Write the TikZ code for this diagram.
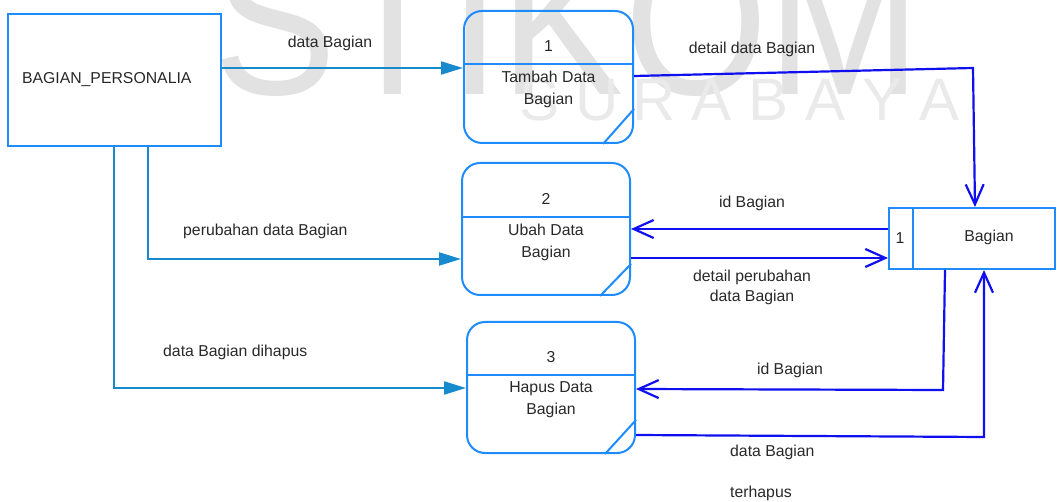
\documentclass[tikz,border=0pt]{standalone}
\usepackage{fontspec}
\setmainfont{Liberation Sans}
\usetikzlibrary{arrows.meta}
\definecolor{procblue}{RGB}{30,140,255}
\definecolor{lflowc}{RGB}{22,138,204}
\definecolor{rflowc}{RGB}{15,15,240}
\definecolor{txt}{RGB}{40,40,40}
\definecolor{wm}{RGB}{226,226,226}
\definecolor{wmtwo}{RGB}{234,234,234}
\begin{document}
\begin{tikzpicture}[x=1pt,y=-1pt,
  every node/.style={text=txt, font=\fontsize{15.8}{22}\selectfont},
  entity/.style={draw=procblue, line width=2pt, rectangle, minimum width=213pt, minimum height=132pt, text width=185pt, inner xsep=14pt, align=left},
  proc/.style={draw=procblue, line width=2pt, rectangle, rounded corners=18pt},
  procline/.style={draw=procblue, line width=2pt},
  store/.style={draw=procblue, line width=2pt, rectangle, minimum width=166pt, minimum height=61pt},
  lflow/.style={draw=lflowc, line width=2pt, -{Triangle[length=22pt,width=13pt]}},
  rflow/.style={draw=rflowc, line width=2.2pt, -{Straight Barb[length=20pt,width=18pt]}},
  lbl/.style={inner sep=0pt},
  wmbig/.style={text=wm, font=\fontsize{210}{210}\selectfont, inner sep=0pt, anchor=base west},
  wmsmall/.style={text=wmtwo, font=\fontsize{60}{60}\selectfont, inner sep=0pt, anchor=base}
]
\useasboundingbox (0,0) rectangle (1057,502);
% watermark
\begin{scope}
\clip (0,0) rectangle (1057,502);
\node[wmbig] (wmA) at (213,95) {\scalebox{0.88}[1]{STIKOM}};
\node[wmsmall] (w1) at (540,121) {S};
\node[wmsmall] (w2) at (597,121) {U};
\node[wmsmall] (w3) at (654,121) {R};
\node[wmsmall] (w4) at (711,121) {A};
\node[wmsmall] (w5) at (768,121) {B};
\node[wmsmall] (w6) at (825,121) {A};
\node[wmsmall] (w7) at (882,121) {Y};
\node[wmsmall] (w8) at (939,121) {A};
\end{scope}

% external entity
\node[entity] (ent) at (114.5,80) {BAGIAN\_PERSONALIA};

% processes
\node[proc, minimum width=169pt, minimum height=132pt] (p1) at (548.5,77) {};
\node[proc, minimum width=168pt, minimum height=132pt] (p2) at (546,229) {};
\node[proc, minimum width=168pt, minimum height=131pt] (p3) at (551,387.5) {};
\draw[procline] (p1.west |- 0,64) -- (p1.east |- 0,64);
\draw[procline] (p2.west |- 0,217) -- (p2.east |- 0,217);
\draw[procline] (p3.west |- 0,375) -- (p3.east |- 0,375);
\draw[procline] (p1.east |- 0,109) -- (p1.south -| 603,0);
\draw[procline] (p2.east |- 0,264) -- (p2.south -| 600,0);
\draw[procline] (p3.east |- 0,420) -- (p3.south -| 605,0);
\node[lbl] (n1) at (548.5,46) {1};
\node[lbl, align=center] (n1t) at (548.5,89) {Tambah Data\\Bagian};
\node[lbl] (n2) at (546,199) {2};
\node[lbl, align=center] (n2t) at (546,242.5) {Ubah Data\\Bagian};
\node[lbl] (n3) at (551,357) {3};
\node[lbl, align=center] (n3t) at (551,400) {Hapus Data\\Bagian};

% data store
\node[store] (st) at (972,238.5) {};
\draw[procline] (st.north -| 913,0) -- (st.south -| 913,0);
\node[lbl] (stn) at (900,238) {1};
\node[lbl] (stt) at (989,237) {Bagian};

% flows from entity
\draw[lflow] (ent.east |- 0,68) -- (p1.west |- 0,68);
\draw[lflow] (ent.south -| 148,0) -- (148,259) -- (p2.west |- 0,259);
\draw[lflow] (ent.south -| 114,0) -- (114,388) -- (p3.west |- 0,388);

% flows with store
\draw[rflow] (p1.east |- 0,76) -- (973,68) -- (st.north -| 975,0);
\draw[rflow] (st.west |- 0,229) -- (p2.east |- 0,229);
\draw[rflow] (p2.east |- 0,258) -- (st.west |- 0,258);
\draw[rflow] (st.south -| 945,0) -- (943,390) -- (p3.east |- 0,389);
\draw[rflow] (p3.east |- 0,435) -- (984,437) -- (st.south -| 984,0);

% flow labels
\node[lbl] (l1) at (330,43) {data Bagian};
\node[lbl] (l2) at (752,49) {detail data Bagian};
\node[lbl, anchor=west] (l3) at (183,231) {perubahan data Bagian};
\node[lbl, anchor=west] (l4) at (163,352) {data Bagian dihapus};
\node[lbl] (l5) at (752,203) {id Bagian};
\node[lbl, align=center, font=\fontsize{15.8}{20}\selectfont] (l6) at (752,287) {detail perubahan\\data Bagian};
\node[lbl] (l7) at (790,370) {id Bagian};
\node[lbl, anchor=west] (l8) at (730,452) {data Bagian};
\node[lbl, anchor=west] (l9) at (730,493) {terhapus};
\end{tikzpicture}
\end{document}
